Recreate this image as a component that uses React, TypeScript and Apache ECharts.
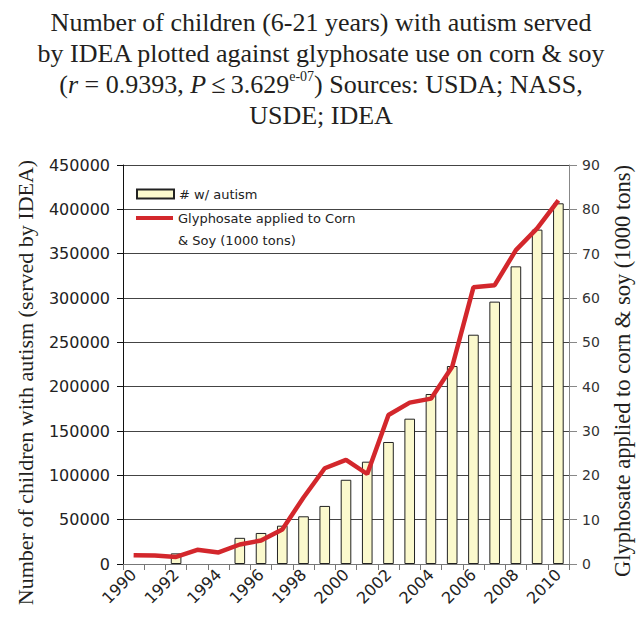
import React, { useEffect, useRef } from 'react';
import * as echarts from 'echarts';

const years = ['1990', '1991', '1992', '1993', '1994', '1995', '1996', '1997', '1998', '1999', '2000',
  '2001', '2002', '2003', '2004', '2005', '2006', '2007', '2008', '2009', '2010'];

const autismCounts = [null, null, 12000, null, null, 29500, 35000, 43200, 53800, 65500, 95000,
  115400, 137600, 163900, 191700, 223300, 258600, 295900, 335700, 377100, 406800];

const glyphosateTons = [2.0, 1.9, 1.6, 3.2, 2.6, 4.4, 5.3, 7.8, 15.0, 21.6, 23.5,
  20.3, 33.6, 36.4, 37.3, 44.5, 62.4, 62.9, 70.8, 75.7, 82.0];

const barName = '# w/ autism';
const lineName = 'Glyphosate applied to Corn & Soy (1000 tons)';

const BAR_FILL = '#fbf9cd';
const LINE_RED = '#d3272c';

export default function App() {
  const ref = useRef<HTMLDivElement>(null);
  useEffect(() => {
    const chart = echarts.init(ref.current!, null, { renderer: 'svg' });
    const legendText = { fontFamily: 'DejaVu Sans', fontSize: 13, color: '#222', lineHeight: 22 };
    chart.setOption({
      animation: false,
      backgroundColor: '#ffffff',
      title: {
        left: 'center',
        top: 7,
        padding: 0,
        text: 'Number of children (6-21 years) with autism served\nby IDEA plotted against glyphosate use on corn & soy\n({i|r} = 0.9393, {i|P}\u2009\u2264\u20093.629{sup|e-07}) Sources: USDA; NASS,\nUSDE; IDEA',
        textStyle: {
          fontFamily: 'Liberation Serif',
          fontSize: 26,
          fontWeight: 'normal',
          color: '#231f20',
          lineHeight: 31,
          rich: {
            i: { fontFamily: 'Liberation Serif', fontSize: 26, fontStyle: 'italic', color: '#231f20', lineHeight: 31 },
            sup: { fontFamily: 'Liberation Serif', fontSize: 14, color: '#231f20', verticalAlign: 'top', lineHeight: 22 },
          },
        },
      },
      legend: [
        {
          orient: 'vertical',
          left: 136,
          top: 183,
          padding: 0,
          itemWidth: 37,
          itemHeight: 9,
          selectedMode: false,
          textStyle: legendText,
          data: [{ name: barName, icon: 'rect' }],
        },
        {
          orient: 'vertical',
          left: 136,
          top: 185,
          padding: 0,
          itemWidth: 37,
          itemHeight: 4,
          selectedMode: false,
          formatter: '\nGlyphosate applied to Corn\n& Soy (1000 tons)',
          textStyle: legendText,
          data: [{ name: lineName, icon: 'rect', itemStyle: { color: LINE_RED } }],
        },
      ],
      grid: { left: 123, top: 165, width: 446, height: 399, containLabel: false },
      xAxis: {
        type: 'category',
        data: years,
        boundaryGap: true,
        axisLine: { lineStyle: { color: '#777', width: 1 } },
        axisTick: { show: true, interval: 0, length: 6, lineStyle: { color: '#777' } },
        axisLabel: { interval: 1, rotate: 45, fontFamily: 'DejaVu Sans', fontSize: 16, color: '#222', margin: 8 },
      },
      yAxis: [
        {
          type: 'value',
          min: 0,
          max: 450000,
          interval: 50000,
          position: 'left',
          axisLine: { show: true, lineStyle: { color: '#111', width: 1 } },
          axisTick: { show: true, length: 6, lineStyle: { color: '#111' } },
          axisLabel: { fontFamily: 'DejaVu Sans', fontSize: 16, color: '#222', margin: 13, formatter: (v: number) => String(v) },
          splitLine: { show: true, lineStyle: { color: '#444', width: 1 } },
          name: 'Number of children with autism (served by IDEA)',
          nameLocation: 'middle',
          nameRotate: 90,
          nameGap: 87,
          nameTextStyle: { fontFamily: 'Liberation Serif', fontSize: 22, color: '#231f20', padding: [0, 36, 0, 0] },
        },
        {
          type: 'value',
          min: 0,
          max: 90,
          interval: 10,
          position: 'right',
          axisLine: { show: true, lineStyle: { color: '#888', width: 1 } },
          axisTick: { show: true, length: 8, lineStyle: { color: '#888' } },
          axisLabel: { fontFamily: 'DejaVu Sans', fontSize: 14, color: '#333', margin: 13 },
          splitLine: { show: false },
          name: 'Glyphosate applied to corn & soy (1000 tons)',
          nameLocation: 'middle',
          nameRotate: 90,
          nameGap: 40,
          nameTextStyle: { fontFamily: 'Liberation Serif', fontSize: 22.5, color: '#231f20', padding: [0, 13, 0, 0] },
        },
      ],
      series: [
        {
          name: barName,
          type: 'bar',
          data: autismCounts,
          barWidth: '50%',
          itemStyle: { color: BAR_FILL, borderColor: '#222', borderWidth: 1 },
          z: 2,
        },
        {
          name: lineName,
          type: 'line',
          yAxisIndex: 1,
          data: glyphosateTons,
          symbol: 'none',
          lineStyle: { color: LINE_RED, width: 4.5 },
          itemStyle: { color: LINE_RED },
          z: 3,
        },
      ],
    });
    return () => chart.dispose();
  }, []);
  return (
    <div
      ref={ref}
      style={{ position: 'fixed', left: 0, top: 0, width: 642, height: 634, background: '#fff' }}
    />
  );
}
